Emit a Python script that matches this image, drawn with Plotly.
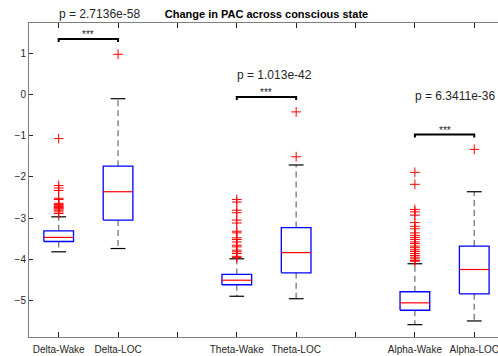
import plotly.graph_objects as go

# Category axis: blank slots separate the three frequency bands
tick_labels = ["Delta-Wake", "Delta-LOC", "", "Theta-Wake", "Theta-LOC", "", "Alpha-Wake", "Alpha-LOC"]
tick_positions = [1, 2, 3, 4, 5, 6, 7, 8]
box_positions = [1, 2, 4, 5, 7, 8]

# Box statistics per condition (log PAC)
q1 = [-3.57, -3.05, -4.62, -4.33, -5.24, -4.84]
median = [-3.47, -2.36, -4.51, -3.84, -5.06, -4.25]
q3 = [-3.31, -1.74, -4.37, -3.23, -4.79, -3.68]
whisker_low = [-3.82, -3.74, -4.90, -4.96, -5.59, -5.50]
whisker_high = [-2.97, -0.10, -3.99, -1.71, -4.11, -2.36]

# Outliers per condition
outliers = [
    [-1.07, -2.21, -2.27, -2.33, -2.52, -2.55, -2.64, -2.67, -2.70, -2.72,
     -2.74, -2.76, -2.78, -2.81, -2.85, -2.89],
    [0.98],
    [-2.55, -2.61, -2.81, -2.87, -3.05, -3.12, -3.32, -3.36, -3.48, -3.52,
     -3.58, -3.66, -3.70, -3.78, -3.82, -3.86, -3.93, -3.96],
    [-0.42, -1.51],
    [-1.89, -2.18, -2.79, -2.85, -2.93, -3.11, -3.20, -3.26, -3.36, -3.42,
     -3.47, -3.52, -3.58, -3.62, -3.68, -3.72, -3.77, -3.81, -3.86, -3.91,
     -3.95, -3.99, -4.03, -4.05],
    [-1.33],
]

# Wake vs LOC comparisons
p_values = ["2.7136e-58", "1.013e-42", "6.3411e-36"]
comparison_pairs = [(1, 2), (4, 5), (7, 8)]
bracket_heights = [1.35, -0.06, -0.97]
p_label_heights = [1.96, 0.47, -0.04]

Y_RANGE = [-5.89, 1.74]
X_RANGE = [0.5, 8.4]
BOX_HALF = 0.25
CAP_HALF = 0.125
FONT = "Liberation Sans, Arial, Helvetica, sans-serif"

fig = go.Figure()

box_x, box_y, med_x, med_y = [], [], [], []
wh_x, wh_y, cap_x, cap_y = [], [], [], []
for p, a, m, b, lo, hi in zip(box_positions, q1, median, q3, whisker_low, whisker_high):
    box_x += [p - BOX_HALF, p + BOX_HALF, p + BOX_HALF, p - BOX_HALF, p - BOX_HALF, None]
    box_y += [a, a, b, b, a, None]
    med_x += [p - BOX_HALF, p + BOX_HALF, None]
    med_y += [m, m, None]
    wh_x += [p, p, None, p, p, None]
    wh_y += [b, hi, None, a, lo, None]
    cap_x += [p - CAP_HALF, p + CAP_HALF, None, p - CAP_HALF, p + CAP_HALF, None]
    cap_y += [hi, hi, None, lo, lo, None]

fig.add_trace(go.Scatter(x=wh_x, y=wh_y, mode="lines",
                         line=dict(color="#808080", width=1.4, dash="6px,4px")))
fig.add_trace(go.Scatter(x=cap_x, y=cap_y, mode="lines",
                         line=dict(color="#000000", width=1.2)))
fig.add_trace(go.Scatter(x=box_x, y=box_y, mode="lines",
                         line=dict(color="#0000FF", width=1.3)))
fig.add_trace(go.Scatter(x=med_x, y=med_y, mode="lines",
                         line=dict(color="#FF0000", width=1.2)))

out_x, out_y = [], []
for p, vals in zip(box_positions, outliers):
    out_x += [p] * len(vals)
    out_y += vals
fig.add_trace(go.Scatter(x=out_x, y=out_y, mode="markers",
                         marker=dict(symbol="cross-thin", size=7, color="#FF0000",
                                     line=dict(color="#FF0000", width=1))))

# Significance brackets
TICK_DROP = 0.07
br_x, br_y = [], []
for (a, b), h in zip(comparison_pairs, bracket_heights):
    br_x += [a, a, b, b, None]
    br_y += [h - TICK_DROP, h, h, h - TICK_DROP, None]
fig.add_trace(go.Scatter(x=br_x, y=br_y, mode="lines",
                         line=dict(color="#000000", width=2)))


def y_to_paper(v):
    # p labels may sit above the axes, so place them in paper space
    return (v - Y_RANGE[0]) / (Y_RANGE[1] - Y_RANGE[0])


annotations = []
for (a, b), h, pv, ph in zip(comparison_pairs, bracket_heights, p_values, p_label_heights):
    annotations.append(dict(x=(a + b) / 2, y=h, xref="x", yref="y", text="***",
                            showarrow=False, yanchor="bottom", yshift=-3,
                            font=dict(family=FONT, size=10, color="#262626")))
    annotations.append(dict(x=a, y=y_to_paper(ph), xref="x", yref="paper", text="p = " + pv,
                            showarrow=False, xanchor="left", yanchor="middle", xshift=-2,
                            font=dict(family=FONT, size=12, color="#262626")))

fig.update_layout(
    width=498, height=356,
    margin=dict(l=29, r=0, t=23, b=19),
    paper_bgcolor="white", plot_bgcolor="white",
    showlegend=False,
    title=dict(text="<b>Change in PAC across conscious state</b>",
               x=(29 + 504) / 2 / 498, xanchor="center", y=1 - 14 / 356, yanchor="middle",
               font=dict(family=FONT, size=11, color="#000000")),
    annotations=annotations,
    font=dict(family=FONT, size=10, color="#262626"),
)
fig.update_xaxes(range=X_RANGE, tickvals=tick_positions, ticktext=tick_labels,
                 showgrid=False, zeroline=False, showline=True, linecolor="#7f7f7f",
                 linewidth=1, mirror="ticks", ticks="inside", ticklen=5,
                 ticklabeloverflow="allow", ticklabelstandoff=3,
                 tickcolor="#262626", tickfont=dict(family=FONT, size=10, color="#262626"))
fig.update_yaxes(range=Y_RANGE, tickvals=[-5, -4, -3, -2, -1, 0, 1],
                 showgrid=False, zeroline=False, showline=True, linecolor="#7f7f7f",
                 linewidth=1, ticks="inside", ticklen=4, tickcolor="#262626",
                 tickfont=dict(family=FONT, size=10, color="#262626"))

fig.write_html("out.html")
